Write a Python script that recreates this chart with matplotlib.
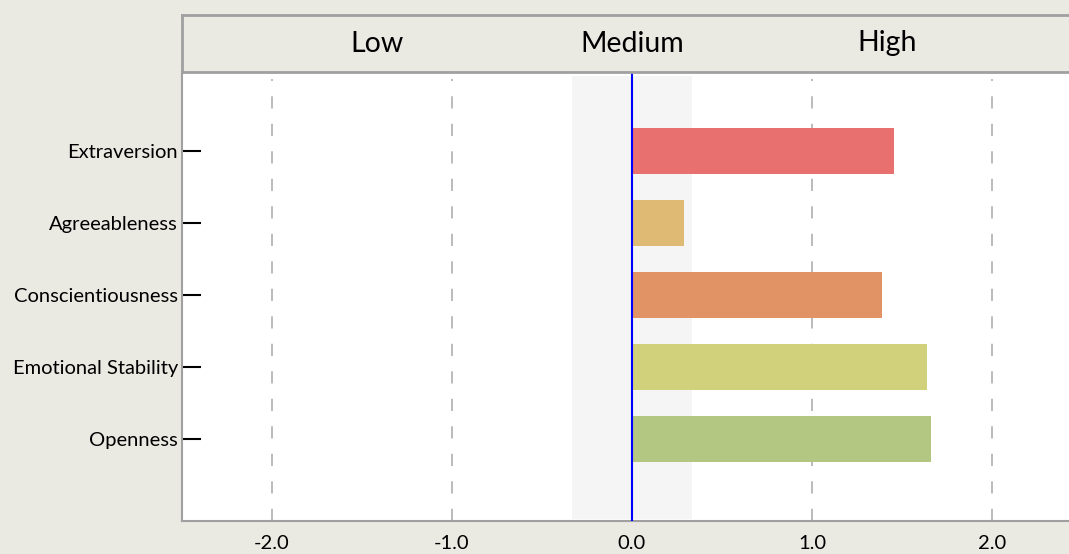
import matplotlib
matplotlib.use("Agg")
from matplotlib import pyplot as plt

# Data
traits = ["Openness", "Emotional Stability", "Conscientiousness", "Agreeableness", "Extraversion"]
scores = [1.66, 1.64, 1.39, 0.29, 1.455]
colors = ["#B3C682", "#D1D07B", "#E19366", "#DFBA75", "#E8706E"]
x_ticks = [-2.0, -1.0, 0.0, 1.0, 2.0]
x_tick_labels = ["-2.0", "-1.0", "0.0", "1.0", "2.0"]
bands = ["Low", "Medium", "High"]
band_edges = [-2.5, -1 / 3, 1 / 3, 2.5]

bg = "#EAE9E2"
frame = "#A0A0A0"
W, H = 1069, 554

plt.rcParams["font.family"] = ["Lato", "DejaVu Sans"]

fig = plt.figure(figsize=(W / 100, H / 100), dpi=100, facecolor=bg)

# main axes, in pixel coords of the picture
left, right, top, bottom = 182, 1082, 72, 521
ax = fig.add_axes([left / W, (H - bottom) / H, (right - left) / W, (bottom - top) / H])
ax.set_facecolor("white")
ax.set_xlim(band_edges[0], band_edges[-1])
ax.set_ylim(-1.14, 5.1)

ax.axvspan(band_edges[1], band_edges[2], ymin=0.005, ymax=0.99, color="#F5F5F5", lw=0, zorder=0)
for x in x_ticks:
    if x != 0:
        ax.axvline(x, color="#A8A8A8", lw=1.1, dashes=(8, 10), ymin=0, ymax=0.985, zorder=1)

ypos = list(range(len(traits)))
ax.barh(ypos, scores, height=0.64, color=colors, zorder=2)
ax.axvline(0, color="blue", lw=1.5, zorder=3)

ax.set_yticks(ypos)
ax.set_yticklabels(traits, fontsize=14.5)
ax.tick_params(axis="y", direction="in", length=14, width=1.5, color="black", pad=3)
ax.set_xticks(x_ticks)
ax.set_xticklabels(x_tick_labels, fontsize=14.5)
ax.tick_params(axis="x", length=0, pad=10)

for side in ["top", "right"]:
    ax.spines[side].set_visible(False)
for side in ["left", "bottom"]:
    ax.spines[side].set_color(frame)
    ax.spines[side].set_linewidth(1.5)

# header strip with band names
hdr_top = 15
hax = fig.add_axes([left / W, (H - top) / H, (right - left) / W, (top - hdr_top) / H])
hax.set_facecolor(bg)
hax.set_xlim(band_edges[0], band_edges[-1])
hax.set_ylim(0, 1)
hax.set_xticks([])
hax.set_yticks([])
hax.spines["right"].set_visible(False)
for side in ["top", "bottom", "left"]:
    hax.spines[side].set_color(frame)
    hax.spines[side].set_linewidth(2)
for i, name in enumerate(bands):
    mid = (band_edges[i] + band_edges[i + 1]) / 2
    hax.text(mid, 0.5, name, ha="center", va="center", fontsize=20.5)

fig.savefig("out.png", dpi=100, facecolor=bg)
